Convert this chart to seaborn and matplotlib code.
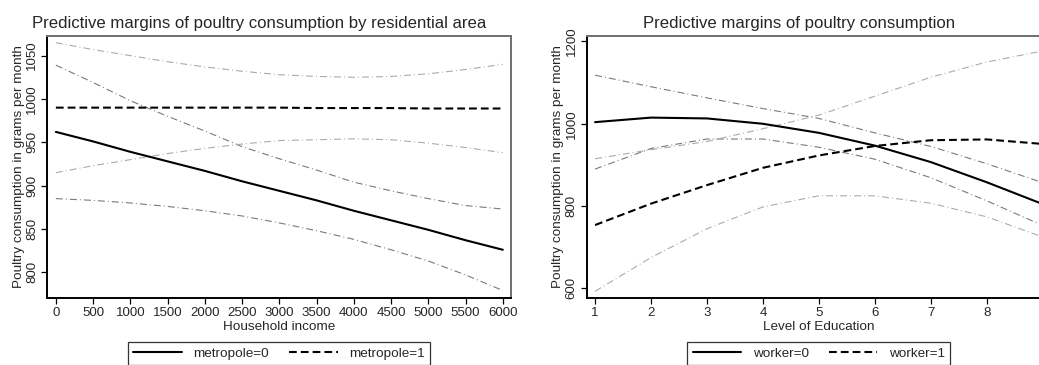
import matplotlib
matplotlib.use("Agg")
import matplotlib.pyplot as plt
import numpy as np
import pandas as pd
import seaborn as sns

# ---- Predictive margins by household income (residential area) ----
income = [0, 500, 1000, 1500, 2000, 2500, 3000, 3500, 4000, 4500, 5000, 5500, 6000]
metro0_mean = [962, 951, 939, 928, 917, 905, 894, 883, 871, 860, 849, 837, 826]
metro0_hi = [1039, 1019, 998, 980, 963, 945, 931, 918, 904, 894, 885, 877, 873]
metro0_lo = [885, 883, 880, 876, 871, 865, 857, 848, 838, 826, 813, 797, 779]
metro1_mean = [990, 990, 990, 990, 990, 990, 990, 989.5, 989.5, 989.5, 989, 989, 989]
metro1_hi = [1065, 1057, 1050, 1043, 1037, 1032, 1028, 1026, 1025, 1026, 1029, 1034, 1040]
metro1_lo = [915, 923, 930, 937, 943, 948, 952, 953, 954, 953, 949, 944, 938]

# ---- Predictive margins by level of education (worker status) ----
educ = [1, 2, 3, 4, 5, 6, 7, 8, 9]
work0_mean = [1004, 1015, 1013, 1000, 978, 947, 907, 858, 805]
work0_hi = [1118, 1090, 1063, 1037, 1013, 978, 945, 903, 857]
work0_lo = [890, 940, 963, 963, 943, 914, 869, 813, 753]
work1_mean = [754, 806, 851, 893, 923, 946, 960, 962, 951]
work1_hi = [915, 937, 957, 988, 1021, 1067, 1113, 1150, 1177]
work1_lo = [593, 675, 745, 798, 825, 825, 807, 774, 725]

income_ticks = list(range(0, 6001, 500))
income_yticks = [800, 850, 900, 950, 1000, 1050]
educ_ticks = [1, 2, 3, 4, 5, 6, 7, 8]
educ_yticks = [600, 800, 1000, 1200]

sns.set_theme(style="white")
plt.rcParams["font.family"] = ["Liberation Sans", "DejaVu Sans"]
plt.rcParams["lines.scale_dashes"] = False

W, H = 1039, 365
fig = plt.figure(figsize=(W / 100, H / 100), dpi=100)

AX_TOP, AX_BOT = 35.7, 298.3


def px_box(x0, x1, y_top, y_bot):
    return [x0 / W, 1 - y_bot / H, (x1 - x0) / W, (y_bot - y_top) / H]


ax1 = fig.add_axes(px_box(47.3, 511, AX_TOP, AX_BOT))
ax2 = fig.add_axes(px_box(586.7, 1051, AX_TOP, AX_BOT))

DASHDOT = (0, (5.0, 2.2, 0.7, 2.2))
DASHED = (0, (5.6, 2.9))
CI_DARK = "#7a7a7a"
CI_LIGHT = "#ababab"


def draw_panel(ax, x, m0, hi0, lo0, m1, hi1, lo1):
    bands = [(hi0, CI_DARK), (lo0, CI_DARK), (hi1, CI_LIGHT), (lo1, CI_LIGHT)]
    for vals, col in bands:
        df = pd.DataFrame({"x": x, "y": vals})
        sns.lineplot(data=df, x="x", y="y", ax=ax, color=col, lw=0.8,
                     linestyle=DASHDOT, errorbar=None)
    d0 = pd.DataFrame({"x": x, "y": m0})
    d1 = pd.DataFrame({"x": x, "y": m1})
    sns.lineplot(data=d0, x="x", y="y", ax=ax, color="black", lw=1.5,
                 linestyle="-", errorbar=None)
    sns.lineplot(data=d1, x="x", y="y", ax=ax, color="black", lw=1.5,
                 linestyle=DASHED, errorbar=None)
    return ax.lines[-2], ax.lines[-1]


h1 = draw_panel(ax1, income, metro0_mean, metro0_hi, metro0_lo,
                metro1_mean, metro1_hi, metro1_lo)
h2 = draw_panel(ax2, educ, work0_mean, work0_hi, work0_lo,
                work1_mean, work1_hi, work1_lo)

ax1.set_xlim(-115, 6110)
ax1.set_ylim(770, 1073)
ax1.set_xticks(income_ticks)
ax1.set_yticks(income_yticks)

ax2.set_xlim(0.85, 9.15)
ax2.set_ylim(576, 1214)
ax2.set_xticks(educ_ticks)
ax2.set_yticks(educ_yticks)

for ax, xl in ((ax1, "Household income"), (ax2, "Level of Education")):
    ax.set_xlabel(xl, fontsize=9.7, labelpad=1)
    ax.set_ylabel("Poultry consumption in grams per month", fontsize=9.7, labelpad=1)
    ax.tick_params(axis="both", which="major", direction="out", length=4.5,
                   width=0.9, color="black", labelsize=9.5, pad=2,
                   bottom=True, left=True, top=False, right=False)
    for lab in ax.get_yticklabels():
        lab.set_rotation(90)
        lab.set_va("center")
    for side in ("left", "bottom"):
        ax.spines[side].set_color("black")
        ax.spines[side].set_linewidth(1.4)
    for side in ("top", "right"):
        ax.spines[side].set_color("#6f6f6f")
        ax.spines[side].set_linewidth(1.4)

# Legend boxes sit below each panel, top edge 44 px under the x axis
leg_y = -(342 - AX_BOT) / (AX_BOT - AX_TOP)
leg_kw = dict(ncol=2, loc="upper center", frameon=True, fancybox=False,
              edgecolor="black", fontsize=9.7, handlelength=3.6,
              handletextpad=0.85, columnspacing=1.5, borderpad=0.4,
              borderaxespad=0)
l1 = ax1.legend(h1, ["metropole=0", "metropole=1"],
                bbox_to_anchor=(0.5, leg_y), **leg_kw)
l2 = ax2.legend(h2, ["worker=0", "worker=1"],
                bbox_to_anchor=(0.5, leg_y), **leg_kw)
for lg in (l1, l2):
    lg.get_frame().set_linewidth(0.9)

# Titles centred over each graph region
fig.text(259.5 / W, 1 - 28 / H, "Predictive margins of poultry consumption by residential area",
         ha="center", va="baseline", fontsize=12.1)
fig.text(799 / W, 1 - 28 / H, "Predictive margins of poultry consumption",
         ha="center", va="baseline", fontsize=12.1)

fig.savefig("out.png", dpi=100)
